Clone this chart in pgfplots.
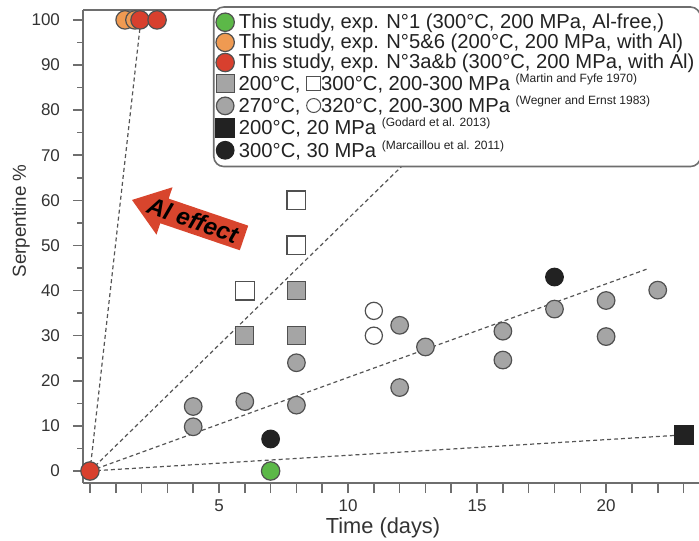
\documentclass[border=0pt]{standalone}
\usepackage{fontspec}
\setmainfont{Liberation Sans}
\usepackage{pgfplots}
\pgfplotsset{compat=1.18}
\usetikzlibrary{calc}

\definecolor{axc}{HTML}{6E6E6E}
\definecolor{txc}{HTML}{333333}
\definecolor{cgreen}{HTML}{5CB848}
\definecolor{corange}{HTML}{EF9A52}
\definecolor{cred}{HTML}{D8402E}
\definecolor{cgray}{HTML}{A5A5A5}
\definecolor{cblack}{HTML}{222222}
\definecolor{cedge}{HTML}{505050}
\definecolor{carrow}{HTML}{D8452D}
\definecolor{cdash}{HTML}{555555}

\newcommand{\osq}{\tikz[baseline=0pt]\draw[cedge,fill=white,line width=0.5pt,sharp corners] (0,0) rectangle (7pt,7pt);}
\newcommand{\ocir}{\tikz[baseline=0pt]\draw[cedge,fill=white,line width=0.5pt] (3.6pt,3.6pt) circle (3.5pt);}
\newcommand{\cit}[1]{\raisebox{0.75ex}{\fontsize{6}{7}\selectfont (#1)}}

\begin{document}
\begin{tikzpicture}
\begin{axis}[
  scale only axis, width=308pt, height=236.5pt,
  xmin=-0.27, xmax=23.6, ymin=-2.66, ymax=102.2,
  axis x line*=bottom, axis y line*=left,
  axis line style={axc, line width=0.8pt, -},
  xtick={0,...,23},
  xticklabels={{},{},{},{},{},5,{},{},{},{},10,{},{},{},{},15,{},{},{},{},20,{},{},{}},
  ytick={0,10,...,100}, minor ytick={5,15,...,95},
  tick align=outside, major tick length=5pt, minor tick length=3pt,
  tick style={axc, line width=0.8pt},
  /pgf/number format/assume math mode=true,
  ticklabel style={font=\fontsize{8.5}{10}\selectfont, text=txc},
  yticklabel style={xshift=-3pt},
  xlabel={Time (days)}, ylabel={Serpentine \%},
  xlabel style={at={(rel axis cs:0.487,-0.094)}, anchor=center, font=\fontsize{10.9}{12}\selectfont, text=txc},
  ylabel style={at={(rel axis cs:-0.1006,0.554)}, anchor=center, font=\fontsize{9.4}{11}\selectfont, text=txc},
  legend cell align=left,
  legend style={at={(rel axis cs:0.211,1.008)}, anchor=north west,
    draw=axc, line width=0.8pt, rounded corners=5pt, fill=white,
    font=\fontsize{10.1}{11}\selectfont, text=cblack,
    inner xsep=1pt, inner ysep=3pt, row sep=0.85pt, nodes={inner ysep=0.2pt}},
]
\coordinate (O) at (rel axis cs:0,0);
% dashed trend lines
\addplot[forget plot, cdash, dashed, dash pattern=on 2pt off 1.5pt, line width=0.6pt] coordinates {(0,0) (1.94,98.4)};
\addplot[forget plot, cdash, dashed, dash pattern=on 2pt off 1.5pt, line width=0.6pt] coordinates {(0,0) (12.5,69.9)};
\addplot[forget plot, cdash, dashed, dash pattern=on 2pt off 1.5pt, line width=0.6pt] coordinates {(0,0) (21.6,44.8)};
\addplot[forget plot, cdash, dashed, dash pattern=on 2pt off 1.5pt, line width=0.6pt] coordinates {(0,0) (23,8)};
% arrow
\fill[carrow] (axis cs:6.132,54.39) -- (axis cs:3.050,60.38) -- (axis cs:3.198,62.90) -- (axis cs:1.628,60.09) -- (axis cs:2.578,52.39) -- (axis cs:2.725,54.92) -- (axis cs:5.806,48.94) -- cycle;
\node[rotate=-19, font=\fontsize{12}{12}\selectfont\bfseries\itshape, text=black] at (axis cs:3.99,55.6) {Al effect};
% open markers
\addplot[forget plot, only marks, mark=square*, mark size=4.7pt, mark options={fill=white, draw=cedge, line width=0.6pt, sharp corners}] coordinates {(6,40) (8,60) (8,50)};
\addplot[forget plot, only marks, mark=*, mark size=4.3pt, mark options={fill=white, draw=cedge, line width=0.6pt}] coordinates {(11,35.5) (11,30)};
% legended series
\addplot[only marks, mark=*, mark size=4.6pt, mark options={fill=cgreen, draw=cedge, line width=0.6pt}] coordinates {(7,0)};
\addlegendentry{This study, exp. N°1 (300°C, 200 MPa, Al-free,)}
\addplot[only marks, mark=*, mark size=4.6pt, mark options={fill=corange, draw=cedge, line width=0.6pt}] coordinates {(1.36,100) (1.74,100)};
\addlegendentry{This study, exp. N°5\&6 (200°C, 200 MPa, with Al)}
\addplot[only marks, mark=*, mark size=4.6pt, mark options={fill=cred, draw=cedge, line width=0.6pt}] coordinates {(0,0) (1.94,100) (2.6,100)};
\addlegendentry{This study, exp. N°3a\&b (300°C, 200 MPa, with Al)}
\addplot[only marks, mark=square*, mark size=4.5pt, mark options={fill=cgray, draw=cedge, line width=0.6pt, sharp corners}] coordinates {(6,30) (8,40) (8,30)};
\addlegendentry{200°C, \osq300°C, 200-300 MPa \cit{Martin and Fyfe 1970}}
\addplot[only marks, mark=*, mark size=4.4pt, mark options={fill=cgray, draw=cedge, line width=0.6pt}] coordinates {(4,14.3) (4,9.8) (6,15.4) (8,24) (8,14.6) (12,32.3) (12,18.5) (13,27.5) (16,31) (16,24.6) (18,35.9) (20,37.8) (20,29.8) (22,40.1)};
\addlegendentry{270°C, \ocir320°C, 200-300 MPa \cit{Wegner and Ernst 1983}}
\addplot[only marks, mark=square*, mark size=4.7pt, mark options={fill=cblack, draw=cblack, line width=0.6pt, sharp corners}] coordinates {(23,8)};
\addlegendentry{200°C, 20 MPa \cit{Godard et al. 2013}}
\addplot[only marks, mark=*, mark size=4.4pt, mark options={fill=cblack, draw=cblack, line width=0.6pt}] coordinates {(7,7.1) (18,43)};
\addlegendentry{300°C, 30 MPa \cit{Marcaillou et al. 2011}}
\draw[axc, line width=0.8pt] (rel axis cs:0,1) -- (rel axis cs:0.22,1);
\end{axis}
\pgfresetboundingbox
\useasboundingbox ($(O)+(-41.5pt,-28.5pt)$) rectangle ++(349.5pt,270pt);
\end{tikzpicture}
\end{document}
